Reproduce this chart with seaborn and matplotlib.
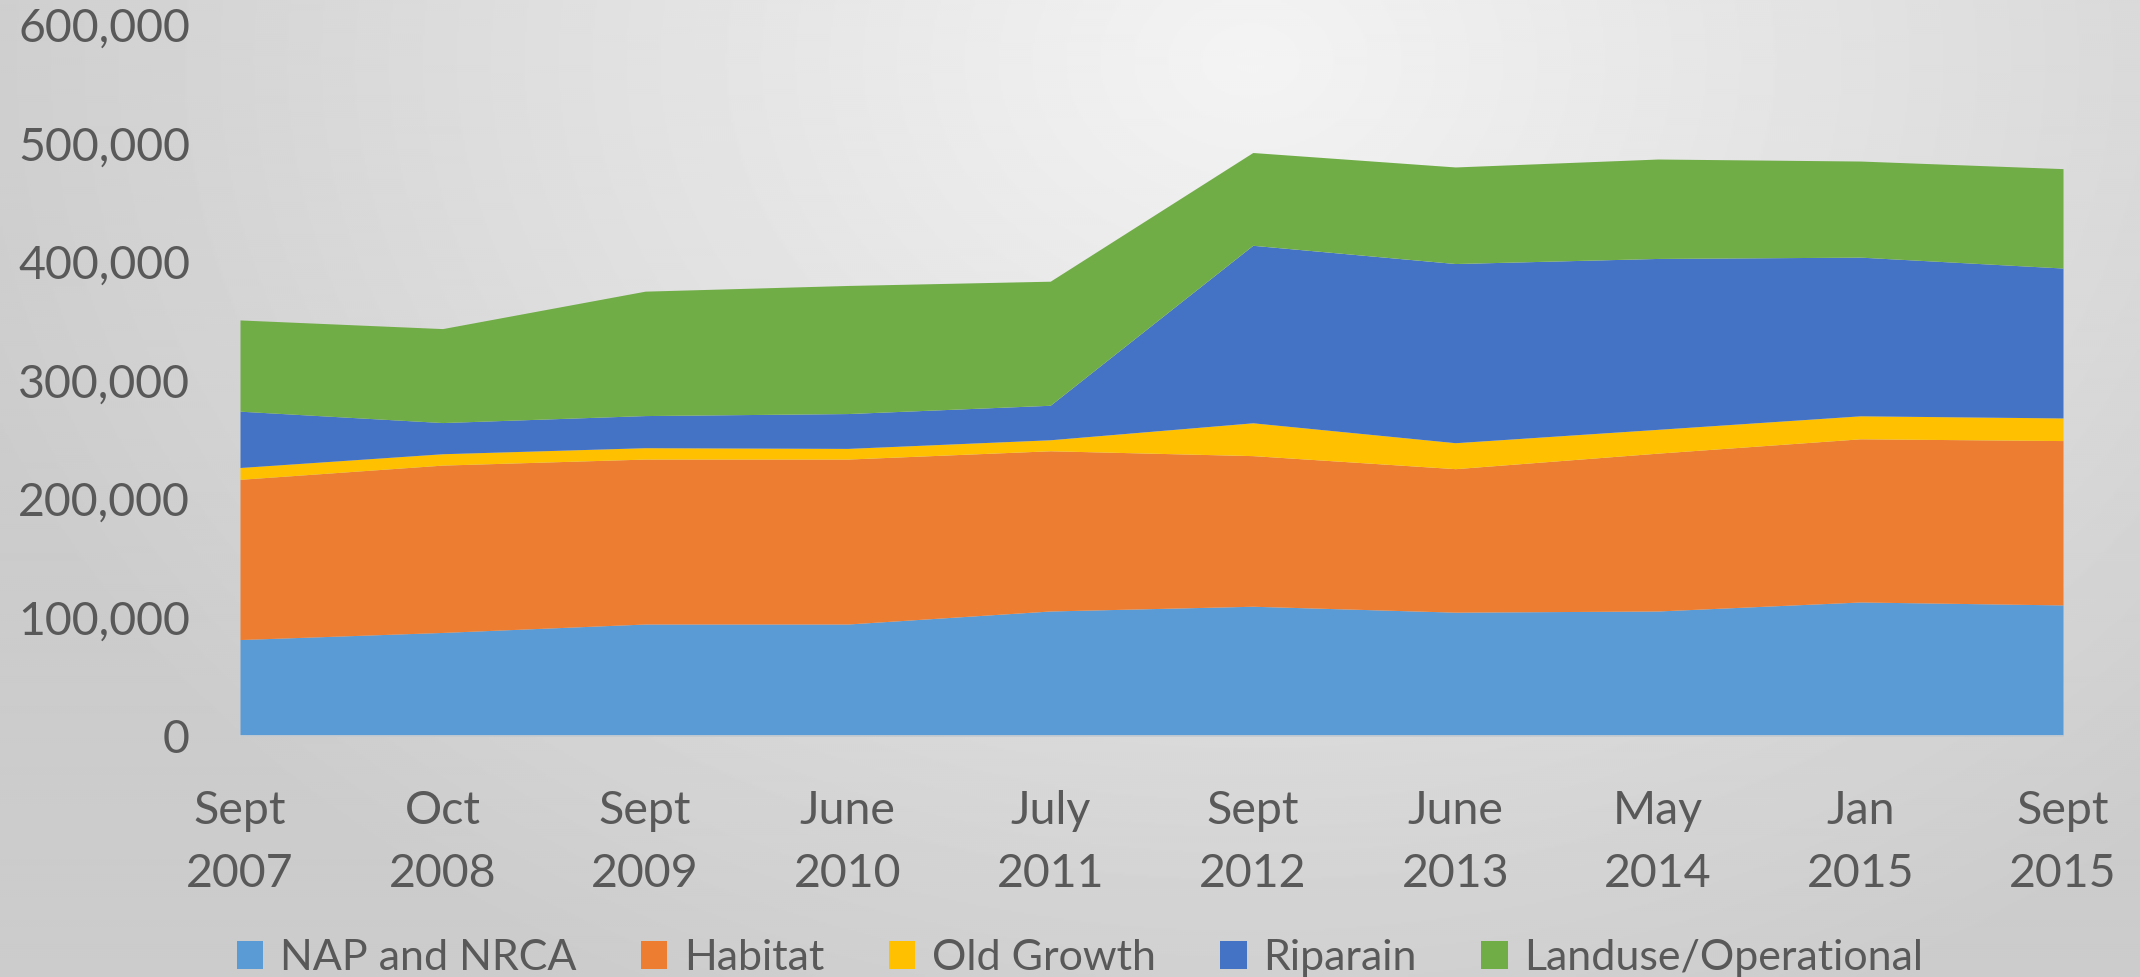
import numpy as np
import matplotlib
matplotlib.use("Agg")
import matplotlib.pyplot as plt
from matplotlib.patches import Patch
from matplotlib.ticker import FuncFormatter
import seaborn as sns

# ---- data (hectares) ----
periods = ["Sept\n2007", "Oct\n2008", "Sept\n2009", "June\n2010", "July\n2011",
           "Sept\n2012", "June\n2013", "May\n2014", "Jan\n2015", "Sept\n2015"]
series_names = ["NAP and NRCA", "Habitat", "Old Growth", "Riparain", "Landuse/Operational"]
nap = [81400, 87400, 94500, 94500, 105500, 109500, 104500, 105500, 113100, 110600]
habitat = [135200, 141200, 139200, 139200, 135200, 127100, 121100, 133200, 137700, 138700]
old_growth = [10000, 9600, 9600, 9000, 9300, 27700, 21900, 20100, 19400, 19100]
riparian = [47500, 26300, 27100, 29400, 29100, 149800, 151200, 144200, 133900, 126500]
landuse = [77000, 79300, 105000, 108100, 104700, 78300, 81500, 83900, 81100, 83900]
colors = ["#5B9BD5", "#ED7D31", "#FFC000", "#4472C4", "#70AD47"]
y_ticks = [0, 100000, 200000, 300000, 400000, 500000, 600000]

sns.set_style("white")
plt.rcParams["font.family"] = ["Lato", "DejaVu Sans"]
TXT = "#595959"

W, H, DPI = 2140, 977, 100
fig = plt.figure(figsize=(W / DPI, H / DPI), dpi=DPI)

# radial gradient background
bg = fig.add_axes([0, 0, 1, 1], zorder=-10)
yy, xx = np.mgrid[0:H:2, 0:W:2]
cx, cy = 1250, 60
r = np.sqrt(((xx - cx) / 1300.0) ** 2 + ((yy - cy) / 1000.0) ** 2)
val = 0.955 - 0.15 * np.clip(r, 0, 1.3)
val = np.clip(val, 0.80, 0.96)
bg.imshow(val, cmap="gray", vmin=0, vmax=1, aspect="auto", extent=[0, 1, 0, 1], interpolation="bilinear")
bg.axis("off")

top_px, zero_px = 25.0, 736.0
ax = fig.add_axes([240 / W, 1 - zero_px / H, (2063 - 240) / W, (zero_px - top_px) / H])
ax.set_facecolor("none")
x = np.arange(len(periods))
ax.stackplot(x, nap, habitat, old_growth, riparian, landuse, colors=colors, labels=series_names,
             linewidth=0)

ax.set_xlim(0, len(periods) - 1)
ax.set_ylim(0, 600000)
ax.set_yticks(y_ticks)
ax.yaxis.set_major_formatter(FuncFormatter(lambda v, p: f"{int(v):,}"))
ax.set_xticks(x)
ax.set_xticklabels(periods, linespacing=1.62)
ax.tick_params(axis="y", length=0, pad=36, labelsize=33.5, labelcolor=TXT)
ax.tick_params(axis="x", length=13, width=1.2, color="#d0d0d0", direction="out", pad=26,
               labelsize=33.5, labelcolor=TXT)
for s in ["top", "right", "left"]:
    ax.spines[s].set_visible(False)
ax.spines["bottom"].set_color("#d0d0d0")
ax.spines["bottom"].set_linewidth(1.2)
ax.grid(False)

handles = [Patch(facecolor=c, edgecolor="none", label=n) for c, n in zip(colors, series_names)]
leg = fig.legend(handles=handles, loc="center", bbox_to_anchor=(1080 / W, 1 - 958 / H), ncol=5,
                 frameon=False, fontsize=31, handlelength=0.62, handleheight=0.62,
                 handletextpad=0.38, columnspacing=1.5, borderaxespad=0)
for t in leg.get_texts():
    t.set_color(TXT)

fig.savefig("out.png", dpi=DPI)
